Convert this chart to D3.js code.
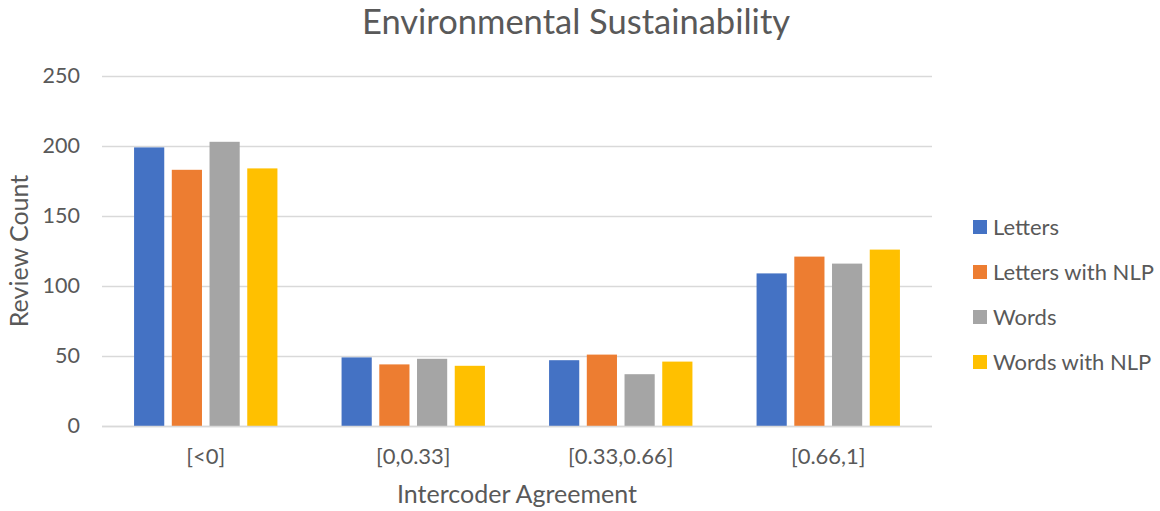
<!DOCTYPE html>
<html>
<head>
<meta charset="utf-8">
<script src="https://cdn.jsdelivr.net/npm/d3@7"></script>
<style>
  html, body { margin: 0; padding: 0; background: #fff; }
  svg { display: block; font-family: Lato, "Open Sans", sans-serif; }
</style>
</head>
<body>
<svg id="chart" width="1160" height="511"></svg>
<script>
// Intercoder agreement buckets and review counts per coding method
const categories = ["[<0]", "[0,0.33]", "[0.33,0.66]", "[0.66,1]"];
const seriesNames = ["Letters", "Letters with NLP", "Words", "Words with NLP"];
const letters = [199, 49, 47, 109];
const lettersNLP = [183, 44, 51, 121];
const words = [203, 48, 37, 116];
const wordsNLP = [184, 43, 46, 126];
const yTicks = [0, 50, 100, 150, 200, 250];
const colors = ["#4472C4", "#ED7D31", "#A5A5A5", "#FFC000"];

const seriesValues = [letters, lettersNLP, words, wordsNLP];

const svg = d3.select("#chart");
const margin = { left: 102, right: 228, top: 76, bottom: 85 };
const W = 1160, H = 511;
const textColor = "#595959";

const x = d3.scaleBand().domain(categories).range([margin.left, W - margin.right]);
const xInner = d3.scaleBand().domain(seriesNames).range([0, x.bandwidth()]).paddingInner(0.2).paddingOuter(0.85);
const y = d3.scaleLinear().domain([0, 250]).range([H - margin.bottom, margin.top]);

// gridlines
svg.append("g")
  .selectAll("line")
  .data(yTicks)
  .join("line")
  .attr("x1", margin.left).attr("x2", W - margin.right)
  .attr("y1", d => y(d) + 0.5).attr("y2", d => y(d) + 0.5)
  .attr("stroke", "#D9D9D9").attr("stroke-width", 1.3);

// y axis labels
const yAxis = d3.axisLeft(y).tickValues(yTicks).tickSize(0).tickPadding(0);
const gy = svg.append("g").attr("transform", `translate(${margin.left - 22},0)`).call(yAxis);
gy.select(".domain").remove();
gy.selectAll("text").attr("font-size", 21.5).attr("fill", textColor).attr("font-family", "Lato, sans-serif");

// bars
const groups = svg.append("g").selectAll("g")
  .data(categories)
  .join("g")
  .attr("transform", d => `translate(${x(d)},0)`);

groups.selectAll("rect")
  .data((c, i) => seriesNames.map((s, j) => ({ s, v: seriesValues[j][i], j })))
  .join("rect")
  .attr("x", d => xInner(d.s))
  .attr("width", xInner.bandwidth())
  .attr("y", d => y(d.v))
  .attr("height", d => y(0) - y(d.v))
  .attr("fill", d => colors[d.j]);

// x axis baseline
svg.append("line")
  .attr("x1", margin.left).attr("x2", W - margin.right)
  .attr("y1", y(0) + 0.5).attr("y2", y(0) + 0.5)
  .attr("stroke", "#D9D9D9").attr("stroke-width", 1.3);

// x axis labels
const xAxis = d3.axisBottom(x).tickSize(0).tickPadding(0);
const gx = svg.append("g").attr("transform", `translate(0,${y(0) + 31})`).call(xAxis);
gx.select(".domain").remove();
gx.selectAll("text").attr("font-size", 22).attr("fill", textColor).attr("font-family", "Lato, sans-serif")
  .attr("dy", "0.3em");

// title
svg.append("text")
  .attr("x", 576).attr("y", 34)
  .attr("text-anchor", "middle")
  .attr("font-size", 34.5).attr("fill", textColor)
  .text("Environmental Sustainability");

// axis titles
svg.append("text")
  .attr("x", 517).attr("y", 503)
  .attr("text-anchor", "middle")
  .attr("font-size", 25).attr("fill", textColor)
  .text("Intercoder Agreement");

svg.append("text")
  .attr("transform", `translate(28,${y(125)}) rotate(-90)`)
  .attr("text-anchor", "middle")
  .attr("font-size", 25).attr("fill", textColor)
  .text("Review Count");

// legend
const legend = svg.append("g").selectAll("g")
  .data(seriesNames)
  .join("g")
  .attr("transform", (d, i) => `translate(973,${227 + i * 45})`);
legend.append("rect").attr("x", 0).attr("y", -7).attr("width", 14).attr("height", 14)
  .attr("fill", (d, i) => colors[i]);
legend.append("text").attr("x", 20).attr("y", 0).attr("dy", "0.35em")
  .attr("font-size", 22).attr("fill", textColor)
  .text(d => d);
</script>
</body>
</html>
